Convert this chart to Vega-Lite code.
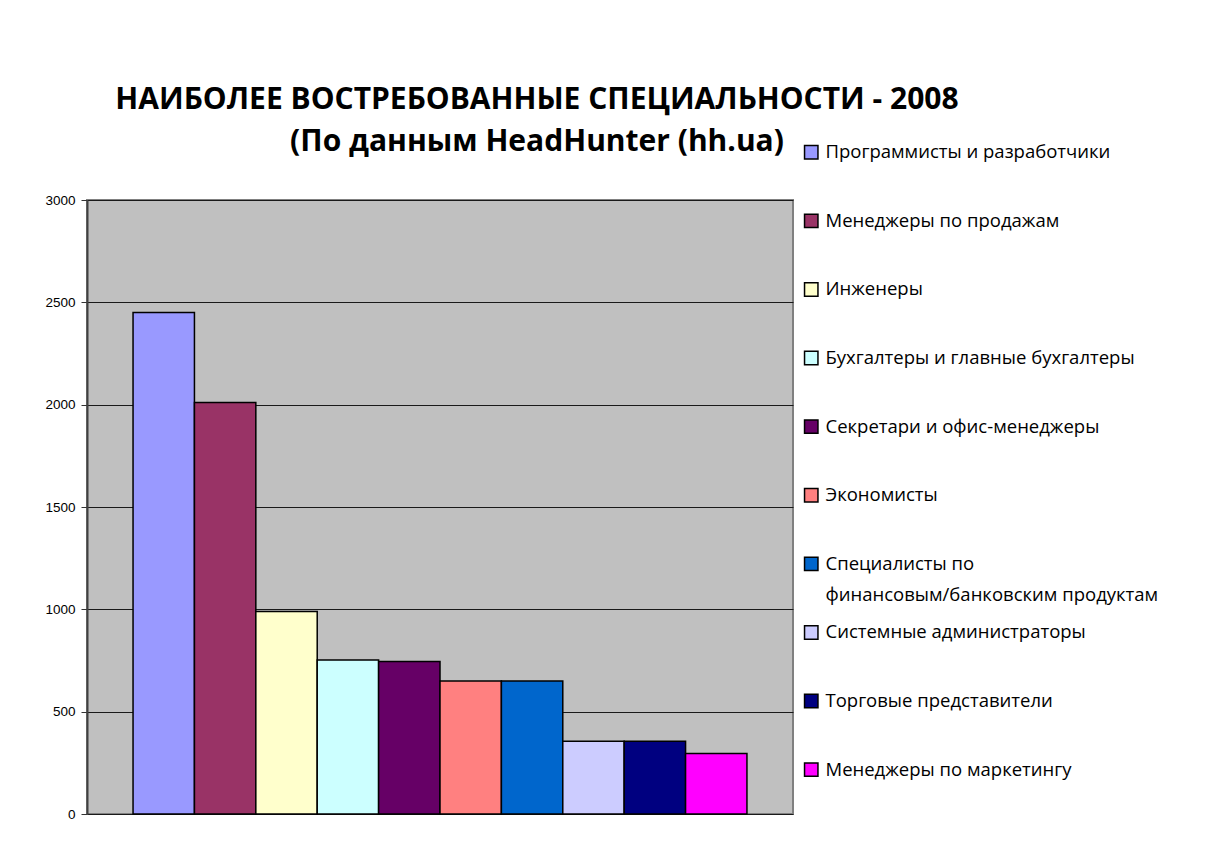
{
  "$schema": "https://vega.github.io/schema/vega-lite/v6.json",
  "width": 706,
  "height": 614,
  "padding": {"left": 44, "top": 85, "right": 10, "bottom": 10},
  "background": "white",
  "title": {
    "text": "НАИБОЛЕЕ ВОСТРЕБОВАННЫЕ СПЕЦИАЛЬНОСТИ - 2008",
    "subtitle": "(По данным HeadHunter (hh.ua)",
    "font": "Open Sans",
    "subtitleFont": "Open Sans",
    "fontSize": 30,
    "subtitleFontSize": 30,
    "fontWeight": "bold",
    "subtitleFontWeight": "bold",
    "color": "black",
    "subtitleColor": "black",
    "anchor": "middle",
    "frame": "group",
    "dx": 97,
    "subtitlePadding": 12,
    "offset": -14
  },
  "data": {
    "values": [
      {"name": "Программисты и разработчики", "value": 2450},
      {"name": "Менеджеры по продажам", "value": 2010},
      {"name": "Инженеры", "value": 990},
      {"name": "Бухгалтеры и главные бухгалтеры", "value": 752},
      {"name": "Секретари и офис-менеджеры", "value": 745},
      {"name": "Экономисты", "value": 650},
      {"name": "Специалисты по финансовым/банковским продуктам", "value": 650},
      {"name": "Системные администраторы", "value": 356},
      {"name": "Торговые представители", "value": 356},
      {"name": "Менеджеры по маркетингу", "value": 296}
    ]
  },
  "mark": {"type": "bar", "stroke": "black", "strokeWidth": 1.5},
  "encoding": {
    "x": {
      "field": "name",
      "type": "nominal",
      "sort": null,
      "axis": null,
      "scale": {"paddingInner": 0, "paddingOuter": 0.75}
    },
    "y": {
      "field": "value",
      "type": "quantitative",
      "scale": {"domain": [0, 3000], "nice": false},
      "axis": {
        "title": null,
        "values": [0, 500, 1000, 1500, 2000, 2500, 3000],
        "format": "d",
        "labelFont": "Liberation Sans",
        "labelFontSize": 13.5,
        "labelColor": "black",
        "tickSize": 6,
        "tickColor": "#333333",
        "tickWidth": 1,
        "labelPadding": 6,
        "domainColor": "#404040",
        "domainWidth": 2,
        "grid": true,
        "gridColor": "#1a1a1a",
        "gridWidth": 1
      }
    },
    "color": {
      "field": "name",
      "type": "nominal",
      "sort": null,
      "scale": {
        "range": ["#9999FF", "#993366", "#FFFFCC", "#CCFFFF", "#660066", "#FF8080", "#0066CC", "#CCCCFF", "#000080", "#FF00FF"]
      },
      "legend": {
        "title": null,
        "orient": "none",
        "legendX": 715,
        "legendY": -57,
        "padding": 0,
        "symbolType": "square",
        "symbolSize": 180,
        "symbolStrokeColor": "black",
        "symbolStrokeWidth": 1.5,
        "labelFont": "Open Sans",
        "labelFontSize": 18.5,
        "labelColor": "black",
        "labelOffset": 5,
        "labelLimit": 500,
        "gridAlign": "all",
        "rowPadding": 17.6,
        "labelExpr": "datum.label == 'Специалисты по финансовым/банковским продуктам' ? ['Специалисты по', 'финансовым/банковским продуктам'] : datum.label",
        "encode": {"labels": {"update": {"lineHeight": {"value": 31}}}}
      }
    }
  },
  "config": {
    "view": {"fill": "#C0C0C0", "stroke": "#808080", "strokeWidth": 2}
  }
}
